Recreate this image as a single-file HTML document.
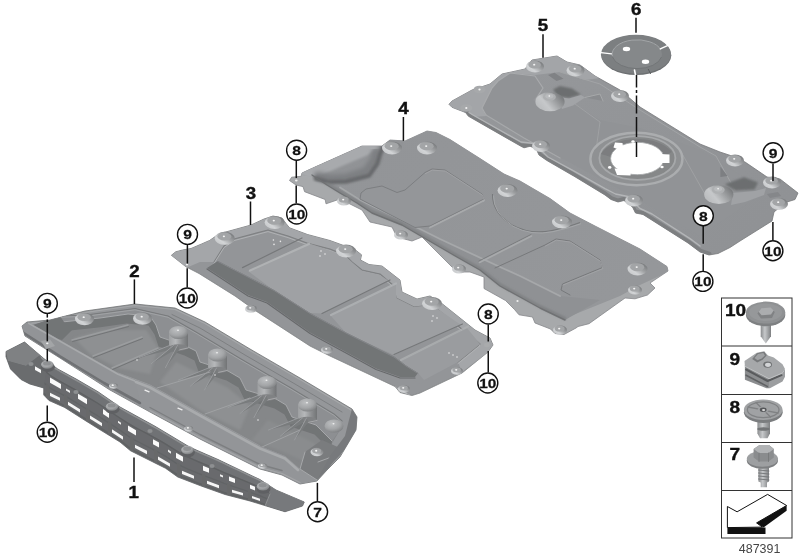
<!DOCTYPE html>
<html lang="en">
<head>
<meta charset="utf-8">
<title>Underbody panelling 487391</title>
<style>
html,body{margin:0;padding:0;background:#fff;}
body{width:800px;height:560px;overflow:hidden;font-family:"Liberation Sans",sans-serif;}
svg{display:block;}
.bn{font-family:"Liberation Sans",sans-serif;font-weight:bold;font-size:17.3px;fill:#111;stroke:#111;stroke-width:0.4px;text-anchor:middle;}
.cn{font-family:"Liberation Sans",sans-serif;font-weight:bold;font-size:13.5px;fill:#111;stroke:#111;stroke-width:0.25px;text-anchor:middle;}
.ln{font-family:"Liberation Sans",sans-serif;font-weight:bold;font-size:17.3px;fill:#111;stroke:#111;stroke-width:0.4px;}
.id{font-family:"Liberation Sans",sans-serif;font-size:12.3px;fill:#454545;text-anchor:middle;}
</style>
</head>
<body>
<svg width="800" height="560" viewBox="0 0 800 560">
<defs>
<linearGradient id="gBoss" x1="0.1" y1="0.95" x2="0.95" y2="0.2">
<stop offset="0" stop-color="#c4c6c8"/><stop offset="0.3" stop-color="#d2d4d6"/><stop offset="0.62" stop-color="#a0a2a4"/><stop offset="1" stop-color="#77797b"/>
</linearGradient>
<linearGradient id="gCone" x1="0.05" y1="0.8" x2="0.95" y2="0.3">
<stop offset="0" stop-color="#b8babc"/><stop offset="0.35" stop-color="#c6c8ca"/><stop offset="0.7" stop-color="#9c9ea0"/><stop offset="1" stop-color="#7a7c7e"/>
</linearGradient>
<linearGradient id="gCyl" x1="0" y1="0" x2="1" y2="0">
<stop offset="0" stop-color="#9d9fa1"/><stop offset="0.35" stop-color="#b6b8ba"/><stop offset="0.7" stop-color="#8d8f91"/><stop offset="1" stop-color="#727476"/>
</linearGradient>
<radialGradient id="gDome" cx="0.4" cy="0.32" r="0.7">
<stop offset="0" stop-color="#bdbfc1"/><stop offset="0.6" stop-color="#a3a5a7"/><stop offset="1" stop-color="#7f8183"/>
</radialGradient>
<linearGradient id="gP2" x1="0" y1="0" x2="1" y2="1">
<stop offset="0" stop-color="#8d8f91"/><stop offset="1" stop-color="#7f8183"/>
</linearGradient>
<linearGradient id="gP3" x1="0" y1="0" x2="1" y2="0.6">
<stop offset="0" stop-color="#8c8e90"/><stop offset="1" stop-color="#909294"/>
</linearGradient>
<linearGradient id="gP4" x1="0" y1="0" x2="1" y2="0.7">
<stop offset="0" stop-color="#929497"/><stop offset="1" stop-color="#95979a"/>
</linearGradient>
<linearGradient id="gP5" x1="0" y1="0" x2="1" y2="0.7">
<stop offset="0" stop-color="#96989b"/><stop offset="1" stop-color="#909295"/>
</linearGradient>
<linearGradient id="gMetal" x1="0" y1="0" x2="1" y2="1">
<stop offset="0" stop-color="#c4c6c8"/><stop offset="0.5" stop-color="#9d9fa1"/><stop offset="1" stop-color="#808284"/>
</linearGradient>
<linearGradient id="gMetalV" x1="0" y1="0" x2="1" y2="0">
<stop offset="0" stop-color="#8a8c8e"/><stop offset="0.4" stop-color="#c6c8ca"/><stop offset="1" stop-color="#7e8082"/>
</linearGradient>
<filter id="b1" x="-10%" y="-10%" width="120%" height="120%"><feGaussianBlur stdDeviation="1"/></filter>
<filter id="b2" x="-10%" y="-10%" width="120%" height="120%"><feGaussianBlur stdDeviation="2"/></filter>
<filter id="soft" x="-2%" y="-2%" width="104%" height="104%"><feGaussianBlur stdDeviation="0.4"/></filter>
<filter id="b05" x="-10%" y="-10%" width="120%" height="120%"><feGaussianBlur stdDeviation="0.5"/></filter>
</defs>
<rect width="800" height="560" fill="#fff"/>
<g id="art" filter="url(#soft)">

<g id="p5">
<clipPath id="c5"><polygon points="449,104.3 452,101 472,90 490,84 502,74 525,69 532,60 557,56 567,62 580,65 595,76 620,90 640,107 700,144 720,152 732,156 745,162 767,177 780,179 798,193 795,199.5 787,202 780,207 774,212 772,221 740,241 730,247.5 718,253.5 709,255 700,252 688,243 643,214.5 635.5,213 632.5,207 628,203.5 624,200.5 618,202 611,199.5 605,195 575,176.8 546.5,160.3 539,155 536,148.5 530,146.3 524,147.8 521,146.3 468.5,116.3 465.5,112.5 452,107.3"/></clipPath>
<polygon points="449,104.3 452,101 472,90 490,84 502,74 525,69 532,60 557,56 567,62 580,65 595,76 620,90 640,107 700,144 720,152 732,156 745,162 767,177 780,179 798,193 795,199.5 787,202 780,207 774,212 772,221 740,241 730,247.5 718,253.5 709,255 700,252 688,243 643,214.5 635.5,213 632.5,207 628,203.5 624,200.5 618,202 611,199.5 605,195 575,176.8 546.5,160.3 539,155 536,148.5 530,146.3 524,147.8 521,146.3 468.5,116.3 465.5,112.5 452,107.3" fill="url(#gP5)" stroke="#77797b" stroke-width="0.8" stroke-linejoin="round"/>
<g clip-path="url(#c5)">
<polygon points="448,104 454,99 485,82 491,83 501,74 526,68 528,63 535,58 559,55 570,61 580,63 600,78 585,80 560,72 535,75 510,73 498,81 492,88 482,108 486,116 470,117 466,113 449,108" fill="#a3a5a8" filter="url(#b05)"/>
<polygon points="510,73 535,76 543,88 533,100 545,110 575,104 600,120 640,128 700,150 740,175 760,195 700,236 640,200 524,138 486,115 482,108 492,88 498,81" fill="#919396" />
<polyline points="486,115 482,108 492,88 498,81 510,73 535,76 543,88 536,99" fill="none" stroke="#a9abad" stroke-width="1.2" stroke-linecap="round" stroke-linejoin="round" />
<polyline points="486,115 524,138 560,158" fill="none" stroke="#a6a8aa" stroke-width="1.2" stroke-linecap="round" stroke-linejoin="round" />
<polyline points="560,72 600,84 640,110 700,147 716,156 735,190" fill="none" stroke="#a2a4a6" stroke-width="1" stroke-linecap="round" stroke-linejoin="round" />
<polyline points="575,104 600,122 596,150" fill="none" stroke="#9fa1a3" stroke-width="1" stroke-linecap="round" stroke-linejoin="round" />
<polyline points="680,150 706,196" fill="none" stroke="#9fa1a3" stroke-width="1" stroke-linecap="round" stroke-linejoin="round" />
<polyline points="466,112 469,116 521,146 530,146 536,148 539,154.5 546.5,159.5 575,176 605,194 611,198.5 618,201 624,199.5 632,206 635,212 643,213.5 688,242 700,251 709,254" fill="none" stroke="#7d7f81" stroke-width="5" stroke-linecap="round" stroke-linejoin="round" />
<polyline points="469,112.5 473,115 521,142 534,143.5 548,157 575,171.7 605,188.6 615.5,194 628,196.5 640,208.5 652,214 690,238.6 700,246" fill="none" stroke="#b3b5b7" stroke-width="1.4" stroke-linecap="round" stroke-linejoin="round" />
<polygon points="553,89.5 560,86 572,88.5 581,94.5 569,98 558,96.5" fill="#6c6e70" filter="url(#b1)"/>
<polygon points="558,97 569,98.5 581,95 585,97.5 573,105.5 562,109" fill="#a2a4a7" filter="url(#b05)"/>
<ellipse cx="550" cy="101.7" rx="14.6" ry="9.6" fill="url(#gCone)"/>
<ellipse cx="549.4" cy="97" rx="6.5" ry="4" fill="#aeb0b2"/>
<ellipse cx="549.3" cy="96.3" rx="4" ry="2.4" fill="#b9bbbd"/>
<ellipse cx="549.3" cy="96" rx="0.9" ry="0.7" fill="#f4f4f4"/>
<polygon points="585,97.5 600,94 603,101" fill="#8a8c8f" />
<polyline points="585,97.5 600,94 603,101" fill="none" stroke="#a9abad" stroke-width="0.9" stroke-linecap="round" stroke-linejoin="round" />
<polygon points="548,75 554.5,72.8 563.5,78.8 556.5,81" fill="#808285" />
<polygon points="724.8,184.3 744,177.3 758,182.5 754.5,189.5 735.3,190.4" fill="#6c6e70" filter="url(#b1)"/>
<polygon points="733,193 755,191 766,188 764,195 745,202 731,205" fill="#a0a2a5" filter="url(#b05)"/>
<ellipse cx="718.8" cy="194.5" rx="14.6" ry="9.6" fill="url(#gCone)"/>
<ellipse cx="718.2" cy="189.8" rx="6.5" ry="4" fill="#aeb0b2"/>
<ellipse cx="718.1" cy="189.1" rx="4" ry="2.4" fill="#b9bbbd"/>
<ellipse cx="718.1" cy="188.8" rx="0.9" ry="0.7" fill="#f4f4f4"/>
<polygon points="720.4,166.7 727.6,176 720.4,177" fill="#7d7f82" />
<polygon points="767,194 778,192 781,196 770,198" fill="#85878a" />
<ellipse cx="636.4" cy="159" rx="46" ry="26.2" fill="#8f9193" stroke="#abadaf" stroke-width="2.4" filter="url(#b05)"/>
<ellipse cx="637.4" cy="158" rx="38" ry="21.8" fill="#868889" stroke="#a6a8aa" stroke-width="1.8" filter="url(#b05)"/>
<path d="M601,154 A38,21.8 0 0 1 672,152 L664,156 A26.7,16.2 0 0 0 611,157 Z" fill="#7b7d7f" filter="url(#b05)"/>
<ellipse cx="637.3" cy="158.5" rx="26.7" ry="16.2" fill="#fff" stroke="#a2a4a6" stroke-width="0.8"/>
<polygon points="613.5,147.5 615,142.6 622.5,143 623,147 620,150" fill="#fff" />
<polygon points="660,154 669.5,154.5 669.5,163 661,163" fill="#fff" />
<polygon points="614.5,168.5 631,170 630.5,175.5 617,175" fill="#fff" />
<ellipse cx="609.7" cy="167.4" rx="1.7" ry="1.3" fill="#fff"/>
<ellipse cx="662" cy="167" rx="1.7" ry="1.3" fill="#fff"/>
<ellipse cx="633" cy="141.5" rx="1.7" ry="1.3" fill="#fff"/>
</g>
<ellipse cx="535" cy="66.5" rx="9" ry="6" fill="url(#gBoss)"/>
<ellipse cx="534.7" cy="64.82" rx="6.3" ry="3.72" fill="#a3a5a7"/>
<ellipse cx="534.2" cy="64.7" rx="1.1" ry="0.9" fill="#f4f4f4"/>
<ellipse cx="575.5" cy="70.5" rx="9" ry="6" fill="url(#gBoss)"/>
<ellipse cx="575.2" cy="68.82" rx="6.3" ry="3.72" fill="#a3a5a7"/>
<ellipse cx="574.7" cy="68.7" rx="1.1" ry="0.9" fill="#f4f4f4"/>
<ellipse cx="620" cy="96" rx="9" ry="6" fill="url(#gBoss)"/>
<ellipse cx="619.7" cy="94.32" rx="6.3" ry="3.72" fill="#a3a5a7"/>
<ellipse cx="619.2" cy="94.2" rx="1.1" ry="0.9" fill="#f4f4f4"/>
<ellipse cx="735" cy="160.6" rx="9" ry="6" fill="url(#gBoss)"/>
<ellipse cx="734.7" cy="158.92" rx="6.3" ry="3.72" fill="#a3a5a7"/>
<ellipse cx="734.2" cy="158.8" rx="1.1" ry="0.9" fill="#f4f4f4"/>
<ellipse cx="772" cy="182.5" rx="9" ry="6" fill="url(#gBoss)"/>
<ellipse cx="771.7" cy="180.82" rx="6.3" ry="3.72" fill="#a3a5a7"/>
<ellipse cx="771.2" cy="180.7" rx="1.1" ry="0.9" fill="#f4f4f4"/>
<ellipse cx="541" cy="146" rx="9" ry="6" fill="url(#gBoss)"/>
<ellipse cx="540.7" cy="144.32" rx="6.3" ry="3.72" fill="#a3a5a7"/>
<ellipse cx="540.2" cy="144.2" rx="1.1" ry="0.9" fill="#f4f4f4"/>
<ellipse cx="634" cy="200.5" rx="9" ry="6" fill="url(#gBoss)"/>
<ellipse cx="633.7" cy="198.82" rx="6.3" ry="3.72" fill="#a3a5a7"/>
<ellipse cx="633.2" cy="198.7" rx="1.1" ry="0.9" fill="#f4f4f4"/>
<ellipse cx="779" cy="204" rx="9" ry="6" fill="url(#gBoss)"/>
<ellipse cx="778.7" cy="202.32" rx="6.3" ry="3.72" fill="#a3a5a7"/>
<ellipse cx="778.2" cy="202.2" rx="1.1" ry="0.9" fill="#f4f4f4"/>
<ellipse cx="479.5" cy="89.5" rx="6" ry="3.8" fill="#a7a9ab"/>
<ellipse cx="479.5" cy="89.5" rx="1.1" ry="0.9" fill="#f0f0f0"/>
<ellipse cx="466.3" cy="108" rx="6" ry="3.8" fill="#a7a9ab"/>
<ellipse cx="466.3" cy="108" rx="1.1" ry="0.9" fill="#f0f0f0"/>
</g>
<g id="p4">
<clipPath id="c4"><polygon points="289.5,180.5 291.7,177.2 301.2,176.3 302,173 311.5,168.6 362,146 382,146 390,140 405,141 427,131 436,132.5 450,139.5 480,158.5 504,174 520,181 550,198.5 570,213 595,226 640,249 667,266.5 668,271 650,283 655,288 647.5,295 635,298.8 625,298 589,323.7 578,326.5 576,328 564,334.5 555,333.5 550.5,329 535,323 532.5,317 519,314.8 514.5,309.5 505.5,300.5 484,288.5 484,277 470,272 457,272 451,266 422,237 412,241 397,237 392,227 370,222 362,210 352,205 340,199 326,203.8 325.2,199.5 304.6,191.7 303,186.6 296,185"/></clipPath>
<polygon points="289.5,180.5 291.7,177.2 301.2,176.3 302,173 311.5,168.6 362,146 382,146 390,140 405,141 427,131 436,132.5 450,139.5 480,158.5 504,174 520,181 550,198.5 570,213 595,226 640,249 667,266.5 668,271 650,283 655,288 647.5,295 635,298.8 625,298 589,323.7 578,326.5 576,328 564,334.5 555,333.5 550.5,329 535,323 532.5,317 519,314.8 514.5,309.5 505.5,300.5 484,288.5 484,277 470,272 457,272 451,266 422,237 412,241 397,237 392,227 370,222 362,210 352,205 340,199 326,203.8 325.2,199.5 304.6,191.7 303,186.6 296,185" fill="#a7a9ab" stroke="#85878a" stroke-width="0.8" stroke-linejoin="round"/>
<g clip-path="url(#c4)">
<polygon points="300,172 312,165 362,144 382,144 390,139 405,140 427,130 436,131.5 450,138.5 480,157.5 504,173 520,180 550,197.5 570,212 595,225 640,248 668,266 668,272 640,285 620,296 570,316.3 565,320 540,308 500,286 480,270 457,257 402,225 372,213 357,203 340,193 327,185 312,175" fill="url(#gP4)" />
<polygon points="327,181 340,187 360,200 422,230 440,239 500,267 520,276 560,296 600,300 565,320 540,308 500,286 480,270 457,257 402,225 372,213 357,203 340,193 327,185" fill="#8f9194" />
<polyline points="340,187.5 360,200 422,230 440,239 500,267 520,276 560,296" fill="none" stroke="#a6a8aa" stroke-width="1.8" stroke-linecap="round" stroke-linejoin="round" filter="url(#b05)"/>
<polygon points="296,174 312,164 362,143 382,143 390,138 405,140 400,148 384,150 384,160 374,172 350,182 328,183 312,177" fill="#919396" />
<polygon points="297,173.5 312,164 362,143 379,146 368,155 342,166 322,175 309,178" fill="#a8aaad" filter="url(#b1)"/>
<polyline points="318,176 330,178.5 346,177.5 366,171 373,161 376,152" fill="none" stroke="#7d7f82" stroke-width="8" stroke-linecap="round" stroke-linejoin="round" filter="url(#b2)"/>
<polyline points="316,178.5 328,182 346,181.5 369,175.5 377,164 380,154 383,147" fill="none" stroke="#696b6d" stroke-width="4.5" stroke-linecap="round" stroke-linejoin="round" filter="url(#b1)"/>
<polyline points="327,183.5 340,191.5 357,201.5 372,211.5 402,223.5 457,255.5 480,268.5 500,284.5 540,306.5 565,318.5" fill="none" stroke="#7d7f81" stroke-width="2.5" stroke-linecap="round" stroke-linejoin="round" filter="url(#b1)"/>
<polyline points="312,175 327,185 340,193 357,203 372,213 402,225 457,257 480,270 500,286 540,308 565,320" fill="none" stroke="#6f7173" stroke-width="1.4" stroke-linecap="round" stroke-linejoin="round" />
<polygon points="360,199 361,193 366,189 382,186 397,192.5 405,190 425,172.5 432,169 445,170 482,194 484,199 430,226 415,227.5" fill="#949699" stroke="#7c7e80" stroke-width="1" stroke-linejoin="round"/>
<polyline points="425.4,173.6 432.4,170.1 445.4,171.1 482.4,195.1 484.4,200.1 430.4,227.1" fill="none" stroke="#a4a6a8" stroke-width="0.8" stroke-linecap="round" stroke-linejoin="round" />
<polyline points="430,227.5 484,200.5" fill="none" stroke="#a8aaac" stroke-width="1.8" stroke-linecap="round" stroke-linejoin="round" filter="url(#b05)"/>
<polyline points="479,261 531,234.5" fill="none" stroke="#7b7d7f" stroke-width="1" stroke-linecap="round" stroke-linejoin="round" />
<polyline points="479.5,262.5 531.5,236" fill="none" stroke="#a8aaac" stroke-width="1.6" stroke-linecap="round" stroke-linejoin="round" filter="url(#b05)"/>
<path d="M492.5,194 Q492,212 512,225 Q530,235 552,230.5 Q568,227 580,222.5" fill="none" stroke="#77797b" stroke-width="1.1"/>
<path d="M493.5,195.5 Q493,213 513,226.2 Q531,236.2 553,231.7 Q569,228.2 581,223.7" fill="none" stroke="#a6a8aa" stroke-width="0.9"/>
<polyline points="495,268 507,262.5 545,245 556,239 570,241 600,260 602.5,267.5 562.5,284 561,290 570,295" fill="none" stroke="#77797b" stroke-width="1" stroke-linecap="round" stroke-linejoin="round" />
<polyline points="545.4,246.1 556.4,240.1 570.4,242.1 600.4,261.1 602.9,268.6 562.9,285.1" fill="none" stroke="#a4a6a8" stroke-width="0.8" stroke-linecap="round" stroke-linejoin="round" />
</g>
<ellipse cx="392" cy="148" rx="10" ry="6.5" fill="url(#gBoss)"/>
<ellipse cx="391.7" cy="146.18" rx="7" ry="4.03" fill="#a3a5a7"/>
<ellipse cx="391.2" cy="146.05" rx="1.1" ry="0.9" fill="#f4f4f4"/>
<ellipse cx="427" cy="148" rx="10" ry="6.5" fill="url(#gBoss)"/>
<ellipse cx="426.7" cy="146.18" rx="7" ry="4.03" fill="#a3a5a7"/>
<ellipse cx="426.2" cy="146.05" rx="1.1" ry="0.9" fill="#f4f4f4"/>
<ellipse cx="507.5" cy="190.5" rx="10" ry="6.5" fill="url(#gBoss)"/>
<ellipse cx="507.2" cy="188.68" rx="7" ry="4.03" fill="#a3a5a7"/>
<ellipse cx="506.7" cy="188.55" rx="1.1" ry="0.9" fill="#f4f4f4"/>
<ellipse cx="562" cy="222" rx="10" ry="6.5" fill="url(#gBoss)"/>
<ellipse cx="561.7" cy="220.18" rx="7" ry="4.03" fill="#a3a5a7"/>
<ellipse cx="561.2" cy="220.05" rx="1.1" ry="0.9" fill="#f4f4f4"/>
<ellipse cx="637.5" cy="269" rx="10" ry="6.5" fill="url(#gBoss)"/>
<ellipse cx="637.2" cy="267.18" rx="7" ry="4.03" fill="#a3a5a7"/>
<ellipse cx="636.7" cy="267.05" rx="1.1" ry="0.9" fill="#f4f4f4"/>
<ellipse cx="344" cy="201" rx="7" ry="4.6" fill="url(#gBoss)"/>
<ellipse cx="343.7" cy="199.712" rx="4.9" ry="2.852" fill="#a3a5a7"/>
<ellipse cx="343.2" cy="199.62" rx="1.1" ry="0.9" fill="#f4f4f4"/>
<ellipse cx="401" cy="235" rx="7" ry="4.6" fill="url(#gBoss)"/>
<ellipse cx="400.7" cy="233.712" rx="4.9" ry="2.852" fill="#a3a5a7"/>
<ellipse cx="400.2" cy="233.62" rx="1.1" ry="0.9" fill="#f4f4f4"/>
<ellipse cx="459" cy="269" rx="7" ry="4.6" fill="url(#gBoss)"/>
<ellipse cx="458.7" cy="267.712" rx="4.9" ry="2.852" fill="#a3a5a7"/>
<ellipse cx="458.2" cy="267.62" rx="1.1" ry="0.9" fill="#f4f4f4"/>
<ellipse cx="560" cy="330" rx="7" ry="4.6" fill="url(#gBoss)"/>
<ellipse cx="559.7" cy="328.712" rx="4.9" ry="2.852" fill="#a3a5a7"/>
<ellipse cx="559.2" cy="328.62" rx="1.1" ry="0.9" fill="#f4f4f4"/>
<ellipse cx="635" cy="290" rx="7" ry="4.6" fill="url(#gBoss)"/>
<ellipse cx="634.7" cy="288.712" rx="4.9" ry="2.852" fill="#a3a5a7"/>
<ellipse cx="634.2" cy="288.62" rx="1.1" ry="0.9" fill="#f4f4f4"/>
<ellipse cx="517.5" cy="301" rx="1.1" ry="0.9" fill="#f0f0f0"/>
<ellipse cx="296.3" cy="180.5" rx="1.3" ry="1.1" fill="#f0f0f0"/>
</g>
<g id="p3">
<clipPath id="c3"><polygon points="171.4,255.3 175.7,251.8 182.5,250 191,248.5 201.5,244 209.5,240.5 216,236 222,233 251,225 264,219 273,216 282,218 286,223.5 289.5,227.8 307.5,234.5 330,240.5 345,246 355.5,250 361.5,254.8 360.5,260 369,264.5 382,266 400,280 402,292 417,299 430,296 440,302 475,330 490,338 493,345 488,352 462,373 420,393 412,395.5 400,392.5 395,386.5 330,356 310,346 256,311 235,296 199,273.5 186,266.8"/></clipPath>
<polygon points="171.4,255.3 175.7,251.8 182.5,250 191,248.5 201.5,244 209.5,240.5 216,236 222,233 251,225 264,219 273,216 282,218 286,223.5 289.5,227.8 307.5,234.5 330,240.5 345,246 355.5,250 361.5,254.8 360.5,260 369,264.5 382,266 400,280 402,292 417,299 430,296 440,302 475,330 490,338 493,345 488,352 462,373 420,393 412,395.5 400,392.5 395,386.5 330,356 310,346 256,311 235,296 199,273.5 186,266.8" fill="#939598" stroke="#7a7c7e" stroke-width="0.8" stroke-linejoin="round"/>
<g clip-path="url(#c3)">
<polygon points="171.4,255.3 175.7,251.8 182.5,250 191,248.5 201.5,244 209.5,240.5 216,236 222,233 251,225 264,219 273,216 282,218 286,223.5 289.5,227.8 307.5,234.5 330,240.5 345,246 355.5,250 361.5,254.8 360.5,260 369,264.5 382,266 400,280 402,292 417,299 430,296 440,302 475,330 490,338 493,345 488,352 462,372 458,362 480,344 468,334 432,305 414,307 396,298 394,286 380,274 362,270 352,262 345,255 330,249 307,243 288,236 268,230 234,239 224,246 214,262 200,262 186,268" fill="#a4a6a9" />
<polygon points="214,262 224,246 234,239 268,230 288,236 307,243 330,249 345,255 352,262 362,270 380,274 394,286 396,298 414,307 432,305 468,334 480,344 458,362 420,384 400,372 340,340 290,312 250,292" fill="#939598" />
<polyline points="214,262 224,246 234,239 268,230 288,236 307,243 330,249 345,255 352,262 362,270 380,274 394,286 396,298 414,307 432,305 468,334 480,344 458,362" fill="none" stroke="#7f8183" stroke-width="1.2" stroke-linecap="round" stroke-linejoin="round" />
<polyline points="214,263.6 224,247.6 234,240.6 268,231.6 288,237.6 307,244.6 330,250.6 345,256.6 352,263.6 362,271.6 380,275.6 394,287.6 396,299.6 414,308.6 432,306.6 468,335.6 480,345.6 458,363.6" fill="none" stroke="#b0b2b4" stroke-width="1" stroke-linecap="round" stroke-linejoin="round" />
<polygon points="248,271 308,243 345,256 362,271 380,275 389,281 322,313.5 310,313 274,290.5" fill="#9fa1a4" />
<polygon points="331,316 396,284 396,298 414,307 432,305 461,325 394,355 346,333" fill="#9d9fa2" />
<polygon points="401,361 467,328 480,344 458,362 424,380 418,373 406,366" fill="#9a9c9f" />
<polyline points="250,270.5 309,244" fill="none" stroke="#b4b6b8" stroke-width="2.2" stroke-linecap="round" stroke-linejoin="round" opacity="0.8"/>
<polyline points="331,315 396,283.5" fill="none" stroke="#b2b4b6" stroke-width="2.2" stroke-linecap="round" stroke-linejoin="round" opacity="0.8"/>
<polyline points="401,360 468,326.5" fill="none" stroke="#aeb0b2" stroke-width="2.2" stroke-linecap="round" stroke-linejoin="round" opacity="0.8"/>
<polyline points="242.5,267.6 302,238" fill="none" stroke="#76787a" stroke-width="1.2" stroke-linecap="round" stroke-linejoin="round" />
<polyline points="322,313.5 390,280" fill="none" stroke="#76787a" stroke-width="1.2" stroke-linecap="round" stroke-linejoin="round" />
<polyline points="394,354.5 462.5,324" fill="none" stroke="#76787a" stroke-width="1.2" stroke-linecap="round" stroke-linejoin="round" />
<polygon points="207,268 218,261 274,290 310,313 346,332.5 394,356.5 406,365.5 418,373 415,377 400,377 376,368.5 346,352 310,332.5 267,302 248,295" fill="#727476" />
<polyline points="218,261.5 274,290.5 310,313.5 346,333 394,357 406,366 418,373.5" fill="none" stroke="#85878a" stroke-width="1" stroke-linecap="round" stroke-linejoin="round" />
<polyline points="207,269 248,296 267,303 310,333.5 346,353 376,369.5 400,378 415,378" fill="none" stroke="#67696b" stroke-width="1.2" stroke-linecap="round" stroke-linejoin="round" />
<polyline points="172,257 186,268 199,274.5 235,297 256,312 310,347 330,357 395,387.5 412,396.5 420,394 462,374 489,352" fill="none" stroke="#b3b5b7" stroke-width="1.4" stroke-linecap="round" stroke-linejoin="round" />
</g>
<ellipse cx="224.7" cy="238.3" rx="10" ry="6.5" fill="url(#gBoss)"/>
<ellipse cx="224.4" cy="236.48" rx="7" ry="4.03" fill="#a3a5a7"/>
<ellipse cx="223.9" cy="236.35" rx="1.1" ry="0.9" fill="#f4f4f4"/>
<ellipse cx="274.6" cy="222.5" rx="10" ry="6.5" fill="url(#gBoss)"/>
<ellipse cx="274.3" cy="220.68" rx="7" ry="4.03" fill="#a3a5a7"/>
<ellipse cx="273.8" cy="220.55" rx="1.1" ry="0.9" fill="#f4f4f4"/>
<ellipse cx="346" cy="251" rx="10" ry="6.5" fill="url(#gBoss)"/>
<ellipse cx="345.7" cy="249.18" rx="7" ry="4.03" fill="#a3a5a7"/>
<ellipse cx="345.2" cy="249.05" rx="1.1" ry="0.9" fill="#f4f4f4"/>
<ellipse cx="432" cy="303.5" rx="10" ry="6.5" fill="url(#gBoss)"/>
<ellipse cx="431.7" cy="301.68" rx="7" ry="4.03" fill="#a3a5a7"/>
<ellipse cx="431.2" cy="301.55" rx="1.1" ry="0.9" fill="#f4f4f4"/>
<ellipse cx="251" cy="309" rx="6" ry="3.8" fill="url(#gBoss)"/>
<ellipse cx="250.7" cy="307.936" rx="4.2" ry="2.356" fill="#a3a5a7"/>
<ellipse cx="250.2" cy="307.86" rx="1.1" ry="0.9" fill="#f4f4f4"/>
<ellipse cx="327" cy="350" rx="6" ry="3.8" fill="url(#gBoss)"/>
<ellipse cx="326.7" cy="348.936" rx="4.2" ry="2.356" fill="#a3a5a7"/>
<ellipse cx="326.2" cy="348.86" rx="1.1" ry="0.9" fill="#f4f4f4"/>
<ellipse cx="404" cy="389" rx="6" ry="3.8" fill="url(#gBoss)"/>
<ellipse cx="403.7" cy="387.936" rx="4.2" ry="2.356" fill="#a3a5a7"/>
<ellipse cx="403.2" cy="387.86" rx="1.1" ry="0.9" fill="#f4f4f4"/>
<ellipse cx="457" cy="371" rx="6" ry="3.8" fill="url(#gBoss)"/>
<ellipse cx="456.7" cy="369.936" rx="4.2" ry="2.356" fill="#a3a5a7"/>
<ellipse cx="456.2" cy="369.86" rx="1.1" ry="0.9" fill="#f4f4f4"/>
<circle cx="273.4" cy="240" r="0.8" fill="#e8e8e8"/>
<circle cx="280.4" cy="241.4" r="0.8" fill="#e8e8e8"/>
<circle cx="274" cy="244.4" r="0.8" fill="#e8e8e8"/>
<circle cx="321" cy="251" r="0.8" fill="#e8e8e8"/>
<circle cx="325" cy="254" r="0.8" fill="#e8e8e8"/>
<circle cx="320" cy="256" r="0.8" fill="#e8e8e8"/>
<circle cx="433" cy="316" r="0.8" fill="#e8e8e8"/>
<circle cx="437" cy="318" r="0.8" fill="#e8e8e8"/>
<circle cx="432" cy="321" r="0.8" fill="#e8e8e8"/>
<circle cx="449" cy="353" r="0.8" fill="#e8e8e8"/>
<circle cx="453" cy="355" r="0.8" fill="#e8e8e8"/>
<circle cx="457" cy="357" r="0.8" fill="#e8e8e8"/>
<ellipse cx="187" cy="264.6" rx="1.2" ry="1" fill="#f0f0f0"/>
<ellipse cx="487" cy="345" rx="3" ry="2.2" fill="#a9abad"/>
</g>
<g id="p2">
<clipPath id="c2"><polygon points="22,326 27,322 50,320 85,311 135,304 175,308 205,322 250,349 300,378 352,409 357,417 356,430 340,457 327,470 317,481 300,484 282,475 260,469 200,439 150,412 110,390 60,358 25,336"/></clipPath>
<polygon points="22,326 27,322 50,320 85,311 135,304 175,308 205,322 250,349 300,378 352,409 357,417 356,430 340,457 327,470 317,481 300,484 282,475 260,469 200,439 150,412 110,390 60,358 25,336" fill="#95979a" stroke="#707274" stroke-width="0.8" stroke-linejoin="round"/>
<g clip-path="url(#c2)">
<polyline points="29,323.5 50,321.5 85,312.5 135,305.5 175,309.5 205,323.5 250,350.5 300,379.5 351,410" fill="none" stroke="#a6a8aa" stroke-width="1.2" stroke-linecap="round" stroke-linejoin="round" />
<polyline points="172,314.5 200,328 245,355 295,384 342,412" fill="none" stroke="#7b7d7f" stroke-width="0.9" stroke-linecap="round" stroke-linejoin="round" />
<polygon points="33,325 60,316 86,315 135,308.5 168,316 196,332 241,359 291,388 334,414 342,421 340,430 328,450 318,462 300,469 285,456 260,446 200,413 150,385 135,380 118,373 80,351.5 58,339" fill="#858789" />
<polygon points="60,316 86,315 135,308.5 168,316 196,332 241,359 291,388 334,414 342,421 340,430 332,441 324,433 316,425 292,417 286,405 276,399 246,390 240,378 228,371 200,362 196,351 186,346 160,337 156,325 150,316 128,314 100,318 62,322" fill="#8d8f92" />
<polygon points="62,322 100,318 128,314 150,316 156,325 160,337 186,346 196,351 200,362 228,371 240,378 246,390 276,399 286,405 292,417 316,425 324,433 332,441 330.5,450.5 322.5,442.5 314.5,434.5 290.5,426.5 284.5,414.5 274.5,408.5 244.5,399.5 238.5,387.5 226.5,380.5 198.5,371.5 194.5,360.5 184.5,355.5 158.5,346.5 154.5,334.5 148.5,325.5 126.5,323.5 98.5,327.5 60.5,331.5" fill="#727476" />
<polyline points="60,316 86,315 135,308.5 168,316 196,332 241,359 291,388 334,414 342,421" fill="none" stroke="#797b7d" stroke-width="1.2" stroke-linecap="round" stroke-linejoin="round" />
<polyline points="60,317.3 86,316.3 135,309.8 168,317.3 196,333.3 241,360.3 291,389.3 334,415.3 342,422.3" fill="none" stroke="#a3a5a7" stroke-width="0.9" stroke-linecap="round" stroke-linejoin="round" />
<polyline points="62,322 100,318 128,314 150,316 156,325 160,337 186,346 196,351 200,362 228,371 240,378 246,390 276,399 286,405 292,417 316,425 324,433 332,441" fill="none" stroke="#a6a8aa" stroke-width="1" stroke-linecap="round" stroke-linejoin="round" />
<polygon points="33,325 60,316 64,322 72,330 62,340 58,339" fill="#727476" filter="url(#b05)"/>
<polygon points="74,338 104,330 146,330 158,348 150,374 118,368 90,354" fill="#8e9092" filter="url(#b1)"/>
<polygon points="160,382 176,362 200,374 228,388 250,406 240,430 200,410" fill="#8e9092" filter="url(#b1)"/>
<polygon points="252,440 268,420 292,432 316,444 306,462 284,452" fill="#8a8c8e" filter="url(#b1)"/>
<polyline points="128,325 72,340" fill="none" stroke="#9b9d9f" stroke-width="1.4" stroke-linecap="round" stroke-linejoin="round" />
<polyline points="128.5,326.6 72.5,341.6" fill="none" stroke="#727476" stroke-width="1" stroke-linecap="round" stroke-linejoin="round" />
<polyline points="142,337 93,356" fill="none" stroke="#9b9d9f" stroke-width="1.4" stroke-linecap="round" stroke-linejoin="round" />
<polyline points="142.5,338.6 93.5,357.6" fill="none" stroke="#727476" stroke-width="1" stroke-linecap="round" stroke-linejoin="round" />
<polyline points="158,348 112,368" fill="none" stroke="#9b9d9f" stroke-width="1.4" stroke-linecap="round" stroke-linejoin="round" />
<polyline points="158.5,349.6 112.5,369.6" fill="none" stroke="#727476" stroke-width="1" stroke-linecap="round" stroke-linejoin="round" />
<rect x="169" y="333.5" width="19" height="14" fill="url(#gCyl)"/>
<ellipse cx="178.5" cy="347.5" rx="9.5" ry="3.2" fill="#808284"/>
<polyline points="169,347.5 176.5,350.5 188,348" fill="none" stroke="#aaacae" stroke-width="0.9" stroke-linecap="round" stroke-linejoin="round" />
<polygon points="169.5,345.5 139.5,357.5 171.5,349.5" fill="#797b7d" />
<polyline points="169.5,345.5 139.5,357.5" fill="none" stroke="#9c9ea0" stroke-width="0.9" stroke-linecap="round" stroke-linejoin="round" />
<polygon points="173.5,345.5 151.5,363.5 175.5,349.5" fill="#797b7d" />
<polyline points="173.5,345.5 151.5,363.5" fill="none" stroke="#9c9ea0" stroke-width="0.9" stroke-linecap="round" stroke-linejoin="round" />
<polygon points="177.5,345.5 165.5,367.5 179.5,349.5" fill="#797b7d" />
<polyline points="177.5,345.5 165.5,367.5" fill="none" stroke="#9c9ea0" stroke-width="0.9" stroke-linecap="round" stroke-linejoin="round" />
<rect x="208" y="356" width="19" height="14" fill="url(#gCyl)"/>
<ellipse cx="217.5" cy="370" rx="9.5" ry="3.2" fill="#808284"/>
<polyline points="208,370 215.5,373 227,370.5" fill="none" stroke="#aaacae" stroke-width="0.9" stroke-linecap="round" stroke-linejoin="round" />
<polygon points="208.5,368 178.5,380 210.5,372" fill="#797b7d" />
<polyline points="208.5,368 178.5,380" fill="none" stroke="#9c9ea0" stroke-width="0.9" stroke-linecap="round" stroke-linejoin="round" />
<polygon points="212.5,368 190.5,386 214.5,372" fill="#797b7d" />
<polyline points="212.5,368 190.5,386" fill="none" stroke="#9c9ea0" stroke-width="0.9" stroke-linecap="round" stroke-linejoin="round" />
<polygon points="216.5,368 204.5,390 218.5,372" fill="#797b7d" />
<polyline points="216.5,368 204.5,390" fill="none" stroke="#9c9ea0" stroke-width="0.9" stroke-linecap="round" stroke-linejoin="round" />
<rect x="257.5" y="383.5" width="19" height="14" fill="url(#gCyl)"/>
<ellipse cx="267" cy="397.5" rx="9.5" ry="3.2" fill="#808284"/>
<polyline points="257.5,397.5 265,400.5 276.5,398" fill="none" stroke="#aaacae" stroke-width="0.9" stroke-linecap="round" stroke-linejoin="round" />
<polygon points="258,395.5 228,407.5 260,399.5" fill="#797b7d" />
<polyline points="258,395.5 228,407.5" fill="none" stroke="#9c9ea0" stroke-width="0.9" stroke-linecap="round" stroke-linejoin="round" />
<polygon points="262,395.5 240,413.5 264,399.5" fill="#797b7d" />
<polyline points="262,395.5 240,413.5" fill="none" stroke="#9c9ea0" stroke-width="0.9" stroke-linecap="round" stroke-linejoin="round" />
<polygon points="266,395.5 254,417.5 268,399.5" fill="#797b7d" />
<polyline points="266,395.5 254,417.5" fill="none" stroke="#9c9ea0" stroke-width="0.9" stroke-linecap="round" stroke-linejoin="round" />
<rect x="298" y="406" width="19" height="14" fill="url(#gCyl)"/>
<ellipse cx="307.5" cy="420" rx="9.5" ry="3.2" fill="#808284"/>
<polyline points="298,420 305.5,423 317,420.5" fill="none" stroke="#aaacae" stroke-width="0.9" stroke-linecap="round" stroke-linejoin="round" />
<polygon points="298.5,418 268.5,430 300.5,422" fill="#797b7d" />
<polyline points="298.5,418 268.5,430" fill="none" stroke="#9c9ea0" stroke-width="0.9" stroke-linecap="round" stroke-linejoin="round" />
<polygon points="302.5,418 280.5,436 304.5,422" fill="#797b7d" />
<polyline points="302.5,418 280.5,436" fill="none" stroke="#9c9ea0" stroke-width="0.9" stroke-linecap="round" stroke-linejoin="round" />
<polygon points="306.5,418 294.5,440 308.5,422" fill="#797b7d" />
<polyline points="306.5,418 294.5,440" fill="none" stroke="#9c9ea0" stroke-width="0.9" stroke-linecap="round" stroke-linejoin="round" />
<polyline points="157,388 210,372" fill="none" stroke="#a0a2a4" stroke-width="1" stroke-linecap="round" stroke-linejoin="round" />
<polyline points="205,414 250,398" fill="none" stroke="#a0a2a4" stroke-width="1" stroke-linecap="round" stroke-linejoin="round" />
<polyline points="262,447 300,430" fill="none" stroke="#a0a2a4" stroke-width="1" stroke-linecap="round" stroke-linejoin="round" />
<polyline points="118,373 150,385 200,413 260,446" fill="none" stroke="#9b9d9f" stroke-width="1" stroke-linecap="round" stroke-linejoin="round" />
<polygon points="21.7,326 28.7,322.2 118,373 135,380 150,385 150,412 110,390 60,358 25,336" fill="#929497" />
<polyline points="23,332.5 44,346 60,356.3 104,383 140,403" fill="none" stroke="#707274" stroke-width="2.6" stroke-linecap="round" stroke-linejoin="round" filter="url(#b05)"/>
<polyline points="28.7,323.4 118,374.2 135,381" fill="none" stroke="#a8aaac" stroke-width="1.6" stroke-linecap="round" stroke-linejoin="round" filter="url(#b05)"/>
<polygon points="41,341 50,339.5 55,346 46,349" fill="#a3a5a7" />
<polygon points="135,380 150,385 200,413 260,446 285,456 300,469 318,462 330,450 327,470 317,481 300,484 282,475 260,469 200,439 150,412 140,401" fill="#939598" />
<polyline points="136,382 150,387.5 200,415.5 260,448.5 285,458.5 298,470" fill="none" stroke="#a9abad" stroke-width="2.6" stroke-linecap="round" stroke-linejoin="round" filter="url(#b05)"/>
<polyline points="150,410.5 200,437.5 260,467.5 282,473.5 300,482.5" fill="none" stroke="#a4a6a8" stroke-width="1.2" stroke-linecap="round" stroke-linejoin="round" />
<polyline points="150,407.5 200,434.5 260,464.5 282,470.5" fill="none" stroke="#7d7f81" stroke-width="1.4" stroke-linecap="round" stroke-linejoin="round" />
<polygon points="300,469 305,452 322,440 340,448 328,470 317,480" fill="#7a7c7e" />
<polyline points="305,452 300,469 317,480" fill="none" stroke="#a6a8aa" stroke-width="1" stroke-linecap="round" stroke-linejoin="round" />
<polyline points="318,462 345,452" fill="none" stroke="#a6a8aa" stroke-width="1" stroke-linecap="round" stroke-linejoin="round" />
<polygon points="317,480 328.5,467 341,454 352,440 357,431 357,417 352,409 349,420 345,436 330,456" fill="#77797b" />
<polyline points="145,390.2 149,391.8" fill="none" stroke="#ededed" stroke-width="1.4" stroke-linecap="round" stroke-linejoin="round" />
<polyline points="178,408.2 182,409.8" fill="none" stroke="#ededed" stroke-width="1.4" stroke-linecap="round" stroke-linejoin="round" />
</g>
<ellipse cx="84.5" cy="319" rx="9.5" ry="6.2" fill="url(#gBoss)"/>
<ellipse cx="84.2" cy="317.264" rx="6.65" ry="3.844" fill="#a3a5a7"/>
<ellipse cx="83.7" cy="317.14" rx="1.1" ry="0.9" fill="#f4f4f4"/>
<ellipse cx="142.5" cy="318.5" rx="9.5" ry="6.2" fill="url(#gBoss)"/>
<ellipse cx="142.2" cy="316.764" rx="6.65" ry="3.844" fill="#a3a5a7"/>
<ellipse cx="141.7" cy="316.64" rx="1.1" ry="0.9" fill="#f4f4f4"/>
<ellipse cx="178.5" cy="332.5" rx="9.5" ry="6.6" fill="url(#gDome)"/>
<ellipse cx="178" cy="330.3" rx="1" ry="0.8" fill="#f0f0f0"/>
<ellipse cx="217.5" cy="355" rx="9.5" ry="6.6" fill="url(#gDome)"/>
<ellipse cx="217" cy="352.8" rx="1" ry="0.8" fill="#f0f0f0"/>
<ellipse cx="267" cy="382.5" rx="9.5" ry="6.6" fill="url(#gDome)"/>
<ellipse cx="266.5" cy="380.3" rx="1" ry="0.8" fill="#f0f0f0"/>
<ellipse cx="307.5" cy="405" rx="9.5" ry="6.6" fill="url(#gDome)"/>
<ellipse cx="307" cy="402.8" rx="1" ry="0.8" fill="#f0f0f0"/>
<ellipse cx="334" cy="426" rx="9.5" ry="6.6" fill="url(#gDome)"/>
<ellipse cx="333.5" cy="423.8" rx="1" ry="0.8" fill="#f0f0f0"/>
<ellipse cx="317" cy="452" rx="6.5" ry="4.2" fill="url(#gBoss)"/>
<ellipse cx="316.7" cy="450.824" rx="4.55" ry="2.604" fill="#a3a5a7"/>
<ellipse cx="316.2" cy="450.74" rx="1.1" ry="0.9" fill="#f4f4f4"/>
<ellipse cx="113.5" cy="386" rx="4.5" ry="2.8" fill="url(#gBoss)"/>
<ellipse cx="113.2" cy="385.216" rx="3.15" ry="1.736" fill="#a3a5a7"/>
<ellipse cx="112.7" cy="385.16" rx="1.1" ry="0.9" fill="#f4f4f4"/>
<ellipse cx="188.7" cy="428.7" rx="4.5" ry="2.8" fill="url(#gBoss)"/>
<ellipse cx="188.4" cy="427.916" rx="3.15" ry="1.736" fill="#a3a5a7"/>
<ellipse cx="187.9" cy="427.86" rx="1.1" ry="0.9" fill="#f4f4f4"/>
<ellipse cx="262.5" cy="466" rx="4.5" ry="2.8" fill="url(#gBoss)"/>
<ellipse cx="262.2" cy="465.216" rx="3.15" ry="1.736" fill="#a3a5a7"/>
<ellipse cx="261.7" cy="465.16" rx="1.1" ry="0.9" fill="#f4f4f4"/>
<circle cx="137" cy="360" r="0.8" fill="#e8e8e8"/>
<circle cx="215" cy="375" r="0.8" fill="#e8e8e8"/>
<circle cx="258" cy="420" r="0.8" fill="#e8e8e8"/>
<ellipse cx="47.3" cy="343.3" rx="1.2" ry="0.9" fill="#f2f2f2"/>
</g>
<g id="p1">
<clipPath id="c1"><polygon points="6,351.5 24.5,342 43.75,358.5 57.75,369 77,379.5 98,391.75 120,407 155,426.25 190,447.25 218,459.5 260,479.6 276,490 304.25,502 302.5,506 285,511.75 250,501 225,494.5 200.5,485.75 177.75,477 165.5,468.25 130.5,450.75 120,442 98,428.5 84,419.75 64.75,407.5 49,400.5 43.75,395 43.75,388 29.75,384 21,379.5 10.5,369 6,356.75"/></clipPath>
<polygon points="6,351.5 24.5,342 43.75,358.5 57.75,369 77,379.5 98,391.75 120,407 155,426.25 190,447.25 218,459.5 260,479.6 276,490 304.25,502 302.5,506 285,511.75 250,501 225,494.5 200.5,485.75 177.75,477 165.5,468.25 130.5,450.75 120,442 98,428.5 84,419.75 64.75,407.5 49,400.5 43.75,395 43.75,388 29.75,384 21,379.5 10.5,369 6,356.75" fill="#696b6d" stroke="#606264" stroke-width="0.8" stroke-linejoin="round"/>
<g clip-path="url(#c1)">
<polygon points="26,343.286 32,348.429 38,353.571 44,358.688 50,363.188 56,367.688 62,371.318 68,374.591 74,377.864 80,381.25 86,384.75 92,388.25 98,391.75 104,395.909 110,400.068 116,404.227 122,408.1 128,411.4 134,414.7 140,418 146,421.3 152,424.6 158,428.05 164,431.65 170,435.25 176,438.85 182,442.45 188,446.05 194,449 200,451.625 206,454.25 212,456.875 218,459.5 224,462.371 230,465.243 236,468.114 242,470.986 248,473.857 254,476.729 260,479.6 266,483.5 272,487.4 278,490.85 284,493.398 290,495.947 296,498.496 302,501.044 302,502.58 296,501.388 290,500.195 284,498.812 278,496.475 272,493.507 266,490.224 260,486.941 254,484.379 248,481.844 242,479.366 236,476.888 230,474.41 224,471.903 218,469.25 212,466.77 206,464.289 200,461.805 194,459.275 188,456.518 182,453.305 176,449.92 170,446.114 164,442.405 158,438.985 152,435.67 146,432.46 140,429.25 134,426.04 128,422.58 122,418.77 116,414.823 110,410.807 104,406.791 98,402.775 92,399.2 86,395.625 80,392.036 74,388.52 68,385.084 62,381.806 56,378.465 50,374.515 44,369.66 38,363.407 32,359.293 26,354.921" fill="#707274" />
<polyline points="26,344.449 32,349.515 38,354.555 44,359.785 50,364.32 56,368.765 62,372.367 68,375.64 74,378.929 80,382.329 86,385.837 92,389.345 98,392.853 104,396.997 110,401.142 116,405.287 122,409.167 128,412.518 134,415.834 140,419.125 146,422.416 152,425.707 158,429.144 164,432.725 170,436.336 176,439.957 182,443.536 188,447.097 194,450.027 200,452.643 206,455.254 212,457.864 218,460.475 224,463.325 230,466.16 236,468.992 242,471.824 248,474.656 254,477.494 260,480.334 266,484.172 272,488.011 278,491.412 284,493.94 290,496.372 296,498.785 302,501.198" fill="none" stroke="#8f9193" stroke-width="1.6" stroke-linecap="round" stroke-linejoin="round" />
<polyline points="44,370.391 50,375.27 56,379.183 62,382.505 68,385.784 74,389.231 80,392.755 86,396.35 92,399.93 98,403.51 104,407.516 110,411.523 116,415.529 122,419.481 128,423.325 134,426.796 140,430 146,433.204 152,436.408 158,439.714 164,443.122 170,446.839 176,450.658 182,454.029 188,457.216 194,459.96 200,462.483 206,464.959 212,467.429 218,469.9 224,472.538 230,475.021 236,477.473 242,479.925 248,482.376 254,484.889 260,487.431 266,490.673 272,493.914 278,496.85 284,499.173" fill="none" stroke="#5f6163" stroke-width="1.4" stroke-linecap="round" stroke-linejoin="round" />
<polyline points="44,382.827 50,388.107 56,391.397 62,394.392 68,397.676 74,401.309 80,404.98 86,408.675 92,412.34 98,416.005 104,419.849 110,423.693 116,427.537 122,431.574 128,435.996 134,439.648 140,442.75 146,445.852 152,448.954 158,452.107 164,455.311 170,459.151 176,463.204 182,466.332 188,469.079 194,471.605 200,474.021 206,476.336 212,478.643 218,480.95 224,483.341 230,485.411 236,487.416 242,489.422 248,491.428 254,493.559 260,495.751 266,498.293 272,500.836 278,503.225 284,505.308" fill="none" stroke="#626466" stroke-width="1.4" stroke-linecap="round" stroke-linejoin="round" />
<polyline points="44,393.433 50,399.057 56,401.815 62,404.53 68,407.819 74,411.61 80,415.407 86,419.188 92,422.925 98,426.663 104,430.368 110,434.074 116,437.78 122,441.888 128,446.803 134,450.61 140,453.625 146,456.64 152,459.655 158,462.678 164,465.707 170,469.654 176,473.905 182,476.825 188,479.198 194,481.538 200,483.861 206,486.041 212,488.208 218,490.375 224,492.554 230,494.272 236,495.898 242,497.523 248,499.149 254,500.954 260,502.848 266,504.794 272,506.739 278,508.662 284,510.541" fill="none" stroke="#606264" stroke-width="1.8" stroke-linecap="round" stroke-linejoin="round" />
<polygon points="6,351.5 24.5,342 40,355 26,366 8,361" fill="#7f8183" />
<polygon points="8,361 26,366 40,355 46,372 43.75,388 29.75,384 21,379.5 10.5,369" fill="#6a6c6e" />
<polygon points="262,481 276,490 304.25,502 302.5,506 285,511.75 265,506 270,494" fill="#77797b" />
<polyline points="270,494 265,506" fill="none" stroke="#8f9193" stroke-width="1" stroke-linecap="round" stroke-linejoin="round" />
<polygon points="35,366.18 41,369.814 41,373.232 35,369.975" fill="#fafafa" />
<polygon points="50,377.535 61,384.096 61,389.004 50,382.821" fill="#fafafa" />
<polygon points="78,393.706 87,399.124 87,404.205 78,398.725" fill="#fafafa" />
<polygon points="103,409.03 109,413.007 109,418.03 103,414.119" fill="#fafafa" />
<polygon points="128,425.561 136,430.126 136,435.404 128,430.779" fill="#fafafa" />
<polygon points="153,439.153 159,442.463 159,447.552 153,444.312" fill="#fafafa" />
<polygon points="176,452.872 183,456.718 183,461.754 176,458.038" fill="#fafafa" />
<polygon points="203,465.746 209,468.187 209,472.839 203,470.464" fill="#fafafa" />
<polygon points="229,476.459 235,478.832 235,482.957 229,480.768" fill="#fafafa" />
<polygon points="250,484.765 255,486.832 255,490.378 250,488.431" fill="#fafafa" />
<polygon points="50,392.638 60,397.653 60,400.818 50,396.036" fill="#f6f6f6" />
<polygon points="68,401.873 80,409.295 80,412.53 68,405.021" fill="#f6f6f6" />
<polygon points="90,415.488 102,422.94 102,426.218 90,418.766" fill="#f6f6f6" />
<polygon points="112,429.251 123,436.613 123,439.839 112,432.458" fill="#f6f6f6" />
<polygon points="135,444.695 147,450.827 147,454.171 135,448.092" fill="#f6f6f6" />
<polygon points="158,456.481 170,463.497 170,466.756 158,459.762" fill="#f6f6f6" />
<polygon points="182,470.674 194,475.715 194,478.798 182,473.931" fill="#f6f6f6" />
<polygon points="207,480.727 219,485.234 219,488.148 207,483.732" fill="#f6f6f6" />
<polygon points="232,489.694 243,493.083 243,495.577 232,492.404" fill="#f6f6f6" />
<polygon points="252,495.929 260,498.688 260,500.89 252,498.255" fill="#f6f6f6" />
<polygon points="66,388.462 70,390.8 70,392.91 66,390.55" fill="#f0f0f0" />
<polygon points="118,420.732 121,422.722 121,424.839 118,422.842" fill="#f0f0f0" />
<polygon points="168,449.524 171,451.471 171,453.651 168,451.683" fill="#f0f0f0" />
<polygon points="220,474.328 223,475.607 223,477.52 220,476.263" fill="#f0f0f0" />
<polygon points="46,383.233 49.5,386.317 49.5,400.722 46,397.357" fill="#67696b" />
<polygon points="64,393.959 67.5,395.976 67.5,409.25 64,407.167" fill="#67696b" />
<polygon points="86,407.225 89.5,409.357 89.5,423.188 86,421" fill="#67696b" />
<polygon points="108,420.974 111.5,423.227 111.5,436.784 108,434.636" fill="#67696b" />
<polygon points="130,435.957 133.5,437.877 133.5,452.25 130,450.333" fill="#67696b" />
<polygon points="154,448.516 157.5,450.38 157.5,464.25 154,462.5" fill="#67696b" />
<polygon points="177,462.399 180.5,464.185 180.5,478.058 177,476.464" fill="#67696b" />
<polygon points="202,473.447 205.5,474.804 205.5,487.536 202,486.286" fill="#67696b" />
<polygon points="227,483.159 230.5,484.36 230.5,495.93 227,495.02" fill="#67696b" />
<polygon points="248,490.363 251.5,491.608 251.5,501.461 248,500.48" fill="#67696b" />
</g>
<ellipse cx="47.8" cy="367.2" rx="7" ry="4.8" fill="#5f6163"/>
<ellipse cx="47.3" cy="364.6" rx="6.3" ry="4.2" fill="url(#gDome)"/>
<ellipse cx="47" cy="363.4" rx="4" ry="2.2" fill="#8f9193"/>
<ellipse cx="112.5" cy="409.2" rx="7" ry="4.8" fill="#5f6163"/>
<ellipse cx="112" cy="406.6" rx="6.3" ry="4.2" fill="url(#gDome)"/>
<ellipse cx="111.7" cy="405.4" rx="4" ry="2.2" fill="#8f9193"/>
<ellipse cx="187.9" cy="452.6" rx="7" ry="4.8" fill="#5f6163"/>
<ellipse cx="187.4" cy="450" rx="6.3" ry="4.2" fill="url(#gDome)"/>
<ellipse cx="187.1" cy="448.8" rx="4" ry="2.2" fill="#8f9193"/>
<ellipse cx="263.5" cy="489" rx="7" ry="4.8" fill="#5f6163"/>
<ellipse cx="263" cy="486.4" rx="6.3" ry="4.2" fill="url(#gDome)"/>
<ellipse cx="262.7" cy="485.2" rx="4" ry="2.2" fill="#8f9193"/>
<ellipse cx="31" cy="364" rx="2.6" ry="2" fill="#8d8f91"/>
<ellipse cx="76" cy="392" rx="2.6" ry="2" fill="#8d8f91"/>
<ellipse cx="150" cy="431" rx="2.6" ry="2" fill="#8d8f91"/>
<ellipse cx="212" cy="466" rx="2.6" ry="2" fill="#8d8f91"/>
</g>
<g id="p6">
<ellipse cx="636.3" cy="55.2" rx="35" ry="19.7" fill="#6d7072"/>
<ellipse cx="636" cy="54.3" rx="35" ry="19.5" fill="#7c7f81"/>
<ellipse cx="637" cy="54.2" rx="25" ry="14.5" fill="#85888a"/>
<path d="M612.3,56 A25,14.5 0 0 1 661,50" fill="none" stroke="#a2a5a7" stroke-width="1"/>
<path d="M612.5,57 A25,14.5 0 0 0 661.5,57" fill="none" stroke="#727577" stroke-width="1"/>
<polyline points="601,52.7 611.5,53.8" fill="none" stroke="#fff" stroke-width="1.3" stroke-linecap="round" stroke-linejoin="round" />
<polyline points="660.3,48.9 668,45.3" fill="none" stroke="#fff" stroke-width="1.3" stroke-linecap="round" stroke-linejoin="round" />
<polyline points="634.5,70 635.5,75" fill="none" stroke="#fff" stroke-width="1.6" stroke-linecap="round" stroke-linejoin="round" />
<polyline points="648.3,69.3 650.5,73.6" fill="none" stroke="#5c5f61" stroke-width="1" stroke-linecap="round" stroke-linejoin="round" />
<ellipse cx="626.5" cy="49" rx="3.7" ry="2.2" fill="#fff"/>
<ellipse cx="645.5" cy="61.8" rx="3.7" ry="2.2" fill="#fff"/>
</g>
</g>
<g id="labels" opacity="0.999">
<text class="bn" transform="translate(133.6,498) scale(1.08,1)">1</text>
<line x1="134" y1="457.5" x2="134" y2="482" stroke="#111" stroke-width="1.5"/>
<text class="bn" transform="translate(134.4,276.6) scale(1.08,1)">2</text>
<line x1="134.4" y1="279.4" x2="134.4" y2="304" stroke="#111" stroke-width="1.5"/>
<text class="bn" transform="translate(251,198.9) scale(1.08,1)">3</text>
<line x1="250.5" y1="201.5" x2="250.5" y2="225" stroke="#111" stroke-width="1.5"/>
<text class="bn" transform="translate(403.4,113.6) scale(1.08,1)">4</text>
<line x1="403.4" y1="117" x2="403.4" y2="140.8" stroke="#111" stroke-width="1.5"/>
<text class="bn" transform="translate(543,30.8) scale(1.08,1)">5</text>
<line x1="543" y1="34.2" x2="543" y2="57.7" stroke="#111" stroke-width="1.5"/>
<text class="bn" transform="translate(636.3,14.7) scale(1.08,1)">6</text>
<line x1="636" y1="17.7" x2="636" y2="32.7" stroke="#111" stroke-width="1.5"/>
<line x1="636.5" y1="75" x2="636.5" y2="87.5" stroke="#111" stroke-width="1.5"/>
<line x1="636.5" y1="90" x2="636.5" y2="93" stroke="#111" stroke-width="1.5"/>
<line x1="636.5" y1="95.5" x2="636.5" y2="113.5" stroke="#111" stroke-width="1.5"/>
<line x1="636.5" y1="117" x2="636.5" y2="137" stroke="#111" stroke-width="1.5"/>
<line x1="636.5" y1="142" x2="636.5" y2="157" stroke="#111" stroke-width="1.5"/>
<circle cx="47.3" cy="303.4" r="10" fill="#fff" stroke="#111" stroke-width="1.4"/>
<text class="cn" transform="translate(47.3,308.2) scale(1.16,1)">9</text>
<line x1="47.3" y1="314" x2="47.3" y2="317.6" stroke="#111" stroke-width="1.5"/>
<line x1="47.3" y1="319.4" x2="47.3" y2="322" stroke="#111" stroke-width="1.5"/>
<line x1="47.3" y1="323.8" x2="47.3" y2="341.3" stroke="#111" stroke-width="1.5"/>
<line x1="47.3" y1="349" x2="47.3" y2="361.4" stroke="#111" stroke-width="1.5"/>
<circle cx="47.25" cy="432.2" r="10" fill="#fff" stroke="#111" stroke-width="1.4"/>
<text class="cn" transform="translate(47.25,437) scale(1.14,1)">10</text>
<line x1="47.25" y1="405.4" x2="47.25" y2="421.6" stroke="#111" stroke-width="1.5"/>
<circle cx="317.6" cy="511.75" r="10" fill="#fff" stroke="#111" stroke-width="1.4"/>
<text class="cn" transform="translate(317.6,516.55) scale(1.16,1)">7</text>
<line x1="317.4" y1="482.9" x2="317.4" y2="501" stroke="#111" stroke-width="1.5"/>
<circle cx="187.5" cy="234.4" r="10" fill="#fff" stroke="#111" stroke-width="1.4"/>
<text class="cn" transform="translate(187.5,239.2) scale(1.16,1)">9</text>
<line x1="187.4" y1="244.8" x2="187.4" y2="263.6" stroke="#111" stroke-width="1.5"/>
<circle cx="187.2" cy="298" r="10" fill="#fff" stroke="#111" stroke-width="1.4"/>
<text class="cn" transform="translate(187.2,302.8) scale(1.14,1)">10</text>
<line x1="187.2" y1="268.2" x2="187.2" y2="287.4" stroke="#111" stroke-width="1.5"/>
<circle cx="296.6" cy="150.2" r="10" fill="#fff" stroke="#111" stroke-width="1.4"/>
<text class="cn" transform="translate(296.6,155) scale(1.16,1)">8</text>
<line x1="296.3" y1="160.7" x2="296.3" y2="178" stroke="#111" stroke-width="1.5"/>
<circle cx="296.7" cy="214" r="10" fill="#fff" stroke="#111" stroke-width="1.4"/>
<text class="cn" transform="translate(296.7,218.8) scale(1.14,1)">10</text>
<line x1="296.2" y1="185.4" x2="296.2" y2="203.3" stroke="#111" stroke-width="1.5"/>
<circle cx="488.25" cy="314" r="10" fill="#fff" stroke="#111" stroke-width="1.4"/>
<text class="cn" transform="translate(488.25,318.8) scale(1.16,1)">8</text>
<line x1="488.25" y1="324.5" x2="488.25" y2="341.5" stroke="#111" stroke-width="1.5"/>
<circle cx="487.8" cy="383" r="10" fill="#fff" stroke="#111" stroke-width="1.4"/>
<text class="cn" transform="translate(487.8,387.8) scale(1.14,1)">10</text>
<line x1="488.25" y1="351" x2="488.25" y2="372.5" stroke="#111" stroke-width="1.5"/>
<circle cx="703.3" cy="215.75" r="10" fill="#fff" stroke="#111" stroke-width="1.4"/>
<text class="cn" transform="translate(703.3,220.55) scale(1.16,1)">8</text>
<line x1="703.2" y1="226" x2="703.2" y2="243.75" stroke="#111" stroke-width="1.5"/>
<circle cx="702.9" cy="281.4" r="10" fill="#fff" stroke="#111" stroke-width="1.4"/>
<text class="cn" transform="translate(702.9,286.2) scale(1.14,1)">10</text>
<line x1="703.2" y1="254.25" x2="703.2" y2="271" stroke="#111" stroke-width="1.5"/>
<circle cx="773.1" cy="152.75" r="10" fill="#fff" stroke="#111" stroke-width="1.4"/>
<text class="cn" transform="translate(773.1,157.55) scale(1.16,1)">9</text>
<line x1="773" y1="163.5" x2="773" y2="181" stroke="#111" stroke-width="1.5"/>
<circle cx="772.9" cy="250.75" r="10" fill="#fff" stroke="#111" stroke-width="1.4"/>
<text class="cn" transform="translate(772.9,255.55) scale(1.14,1)">10</text>
<line x1="772.9" y1="221.9" x2="772.9" y2="240.3" stroke="#111" stroke-width="1.5"/>
</g>
<g id="legend">
<rect x="721.5" y="298" width="70.5" height="240" fill="#fff" stroke="#333" stroke-width="1"/>
<line x1="721.5" y1="346" x2="792" y2="346" stroke="#333" stroke-width="1"/>
<line x1="721.5" y1="394.5" x2="792" y2="394.5" stroke="#333" stroke-width="1"/>
<line x1="721.5" y1="442.5" x2="792" y2="442.5" stroke="#333" stroke-width="1"/>
<line x1="721.5" y1="490.5" x2="792" y2="490.5" stroke="#333" stroke-width="1"/>
<polygon points="760.7,323 771,323 771,336.3 765.8,343.5 760.7,336.3" fill="url(#gMetalV)" />
<ellipse cx="765.6" cy="315" rx="19.7" ry="11.2" fill="#7e8082"/>
<ellipse cx="765.6" cy="312.6" rx="19.7" ry="11" fill="#8f9193"/>
<ellipse cx="765.6" cy="312.2" rx="16.5" ry="8.8" fill="#96989a"/>
<polygon points="757.4,313.5 760.5,309 771,308.4 774.8,312 772,318 761,318.6" fill="#808284" />
<polygon points="758.6,311.8 761.3,308.2 770.6,307.6 773.6,310.6 771,314.6 761.6,315.2" fill="#abadaf" />
<polygon points="744.9,366.2 769,378.7 769,388.3 766.5,388.3 744.9,379.7" fill="#8b8d8f" />
<polygon points="769,378.7 782.5,372.9 785,369.1 785,376.8 782.5,381.6 769.9,388.3 769,388.3" fill="#9c9ea0" />
<polygon points="744.5,361 756.8,352.7 764.2,351.2 768,355.6 773.8,357.5 782.5,364.3 785,369.1 782.5,372.9 769,378.7 744.9,366.2" fill="#a6a8aa" />
<polygon points="752.2,358.9 757,353.3 764.2,351.7 766.7,355.6 762.6,359.8 757.2,362.5" fill="#77797b" />
<polygon points="754.5,358.1 758,354 763.4,352.9 764.9,355.6 761.9,358.3 757.6,360.2" fill="#a0a2a4" />
<polyline points="746.1,369.5 767.6,381 781.5,375.2" fill="none" stroke="#595b5d" stroke-width="2" stroke-linecap="round" stroke-linejoin="round" />
<polyline points="746.1,375.2 767.3,386.4" fill="none" stroke="#606264" stroke-width="1.6" stroke-linecap="round" stroke-linejoin="round" />
<polyline points="744.9,366.2 769,378.7 782.5,372.9" fill="none" stroke="#bcbec0" stroke-width="0.9" stroke-linecap="round" stroke-linejoin="round" />
<ellipse cx="767.6" cy="364.6" rx="4.4" ry="3.2" fill="#707274"/>
<ellipse cx="768" cy="364.8" rx="3" ry="2.1" fill="#d2d4d6"/>
<polygon points="757.4,420 770,420 770,433.5 767.5,438.2 760,438.2 757.4,433.5" fill="url(#gMetalV)" />
<ellipse cx="763.5" cy="429" rx="6.3" ry="1.7" fill="#737577"/>
<ellipse cx="763.3" cy="412.3" rx="19.4" ry="10.6" fill="#7b7d7f"/>
<ellipse cx="763.2" cy="409.8" rx="19.3" ry="10.2" fill="#a0a2a4"/>
<ellipse cx="763.2" cy="409.8" rx="15.8" ry="7.9" fill="none" stroke="#808284" stroke-width="1.3"/>
<polyline points="748,407 778,413" fill="none" stroke="#808284" stroke-width="1.3" stroke-linecap="round" stroke-linejoin="round" />
<polyline points="756,402.5 770.5,417" fill="none" stroke="#808284" stroke-width="1.3" stroke-linecap="round" stroke-linejoin="round" />
<ellipse cx="763.2" cy="409.8" rx="5.4" ry="3.2" fill="#a0a2a4"/>
<ellipse cx="763.2" cy="409.8" rx="3.4" ry="2.2" fill="#55575a"/>
<ellipse cx="763.6" cy="410.1" rx="1.6" ry="1.1" fill="#d8d8d8"/>
<polygon points="758.4,465 769,465 769,481.5 767,482.5 767,487.3 760.7,487.3 760.7,482.5 758.4,481.5" fill="url(#gMetalV)" />
<polyline points="758.4,470 769,471" fill="none" stroke="#727476" stroke-width="0.9" stroke-linecap="round" stroke-linejoin="round" />
<polyline points="758.4,473 769,474" fill="none" stroke="#727476" stroke-width="0.9" stroke-linecap="round" stroke-linejoin="round" />
<polyline points="758.4,476 769,477" fill="none" stroke="#727476" stroke-width="0.9" stroke-linecap="round" stroke-linejoin="round" />
<polyline points="758.4,479 769,480" fill="none" stroke="#727476" stroke-width="0.9" stroke-linecap="round" stroke-linejoin="round" />
<ellipse cx="762.4" cy="460.6" rx="15.6" ry="8.2" fill="#7d7f81"/>
<ellipse cx="762.4" cy="458.8" rx="15.6" ry="8" fill="#9d9fa1"/>
<polygon points="753.6,449 759.5,445 769,445 773.8,449 773.8,457.5 768.5,461.5 759,461.5 753.6,457.5" fill="#8a8c8e" />
<polygon points="753.6,449 759.5,445 769,445 773.8,449 768.5,453 759,453" fill="#b1b3b5" />
<polyline points="759,453 759,461.5" fill="none" stroke="#77797b" stroke-width="0.9" stroke-linecap="round" stroke-linejoin="round" />
<polyline points="768.5,453 768.5,461.5" fill="none" stroke="#77797b" stroke-width="0.9" stroke-linecap="round" stroke-linejoin="round" />
<polygon points="727.4,506.5 737.1,511.8 767.6,494.4 786.6,505.5 756.6,522.9 762.4,527.1 727.4,527.6" fill="#fff" stroke="#111" stroke-width="1" stroke-linejoin="miter"/>
<polygon points="786.6,505.5 786.6,510.8 763.5,527.4 756.6,522.9" fill="#111" />
<polygon points="727.4,527.6 765.5,527.6 765.5,533.9 727.4,533.9" fill="#111" />
</g>
<g id="legendtext" opacity="0.999">
<text x="0" y="0" class="ln" transform="translate(725,316.2) scale(1.1,1)">10</text>
<text x="0" y="0" class="ln" transform="translate(729.5,364.5) scale(1.1,1)">9</text>
<text x="0" y="0" class="ln" transform="translate(729.5,412.5) scale(1.1,1)">8</text>
<text x="0" y="0" class="ln" transform="translate(729.5,460.3) scale(1.1,1)">7</text>
<text x="759.6" y="552.6" class="id" textLength="41.6" lengthAdjust="spacingAndGlyphs">487391</text>
</g>
</svg>
</body>
</html>
